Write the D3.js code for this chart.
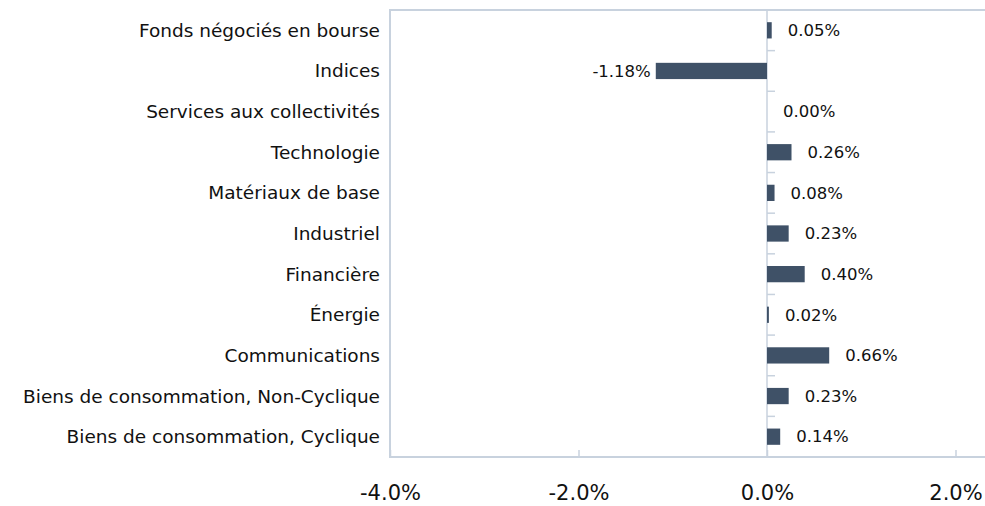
<!DOCTYPE html>
<html>
<head>
<meta charset="utf-8">
<script src="https://cdn.jsdelivr.net/npm/d3@7"></script>
<style>
  body { margin: 0; background: #fff; }
  svg { display: block; font-family: "DejaVu Sans", Verdana, sans-serif; }
</style>
</head>
<body>
<figure id="bar" style="margin:0"></figure>
<script>
// data, top to bottom as drawn
const categories = [
  "Fonds négociés en bourse",
  "Indices",
  "Services aux collectivités",
  "Technologie",
  "Matériaux de base",
  "Industriel",
  "Financière",
  "Énergie",
  "Communications",
  "Biens de consommation, Non-Cyclique",
  "Biens de consommation, Cyclique"
];
const values = [0.05, -1.18, 0.00, 0.26, 0.08, 0.23, 0.40, 0.02, 0.66, 0.23, 0.14];
const tickValues = [-4, -2, 0, 2];

const width = 985, height = 506;
const margin = {top: 10, left: 390, bottom: 49};
const plotRight = 1144;

// plain hyphen instead of unicode minus
const pct = (p) => (d => d3.format("." + p + "f")(d).replace("\u2212", "-") + "%");

const svg = d3.select("figure#bar")
  .append("svg")
  .attr("width", width)
  .attr("height", height);

const x = d3.scaleLinear()
  .domain([-4, 4])
  .range([margin.left, plotRight]);

const y = d3.scaleBand()
  .domain(categories)
  .range([margin.top, height - margin.bottom])
  .paddingInner(0.6)
  .paddingOuter(0.3);

const frameColor = "#c8d2de";
const bottom = height - margin.bottom;

// plot frame
svg.append("rect")
  .attr("x", margin.left)
  .attr("y", margin.top)
  .attr("width", plotRight - margin.left)
  .attr("height", bottom - margin.top)
  .attr("fill", "none")
  .attr("stroke", frameColor)
  .attr("stroke-width", 2);

// x axis (ticks inward, labels below)
const xAxis = svg.append("g")
  .attr("transform", "translate(0," + bottom + ")")
  .call(d3.axisBottom(x)
    .tickValues(tickValues)
    .tickSize(-7)
    .tickPadding(28)
    .tickFormat(pct(1)));
xAxis.select(".domain").remove();
xAxis.selectAll("line").attr("stroke", frameColor).attr("stroke-width", 1.5);
xAxis.selectAll("text")
  .attr("fill", "#111")
  .style("font-size", "21px")
  .style("font-family", "DejaVu Sans, sans-serif");

// category axis at zero
const step = y.step();
svg.append("line")
  .attr("x1", x(0)).attr("x2", x(0))
  .attr("y1", margin.top).attr("y2", bottom)
  .attr("stroke", frameColor)
  .attr("stroke-width", 1.5);

svg.selectAll("line.cat-tick")
  .data(d3.range(1, categories.length))
  .enter()
  .append("line")
    .attr("class", "cat-tick")
    .attr("x1", x(0)).attr("x2", x(0) + 8)
    .attr("y1", i => margin.top + i * step)
    .attr("y2", i => margin.top + i * step)
    .attr("stroke", frameColor)
    .attr("stroke-width", 1.5);

// category labels
svg.selectAll("text.cat")
  .data(categories)
  .enter()
  .append("text")
    .attr("class", "cat")
    .attr("x", 380)
    .attr("y", d => y(d) + y.bandwidth() / 2)
    .attr("dy", "0.35em")
    .attr("text-anchor", "end")
    .attr("fill", "#111")
    .style("font-size", "18.5px")
    .text(d => d);

// bars
svg.selectAll("rect.bar")
  .data(values)
  .enter()
  .append("rect")
    .attr("class", "bar")
    .attr("x", d => x(Math.min(0, d)))
    .attr("y", (d, i) => y(categories[i]))
    .attr("width", d => Math.abs(x(d) - x(0)))
    .attr("height", y.bandwidth())
    .attr("fill", "#3f5167");

// value labels
svg.selectAll("text.val")
  .data(values)
  .enter()
  .append("text")
    .attr("class", "val")
    .attr("x", d => d < 0 ? x(d) - 5 : x(d) + 16)
    .attr("y", (d, i) => y(categories[i]) + y.bandwidth() / 2)
    .attr("dy", "0.35em")
    .attr("text-anchor", d => d < 0 ? "end" : "start")
    .attr("fill", "#111")
    .style("font-size", "16.5px")
    .text(pct(2));
</script>
</body>
</html>
